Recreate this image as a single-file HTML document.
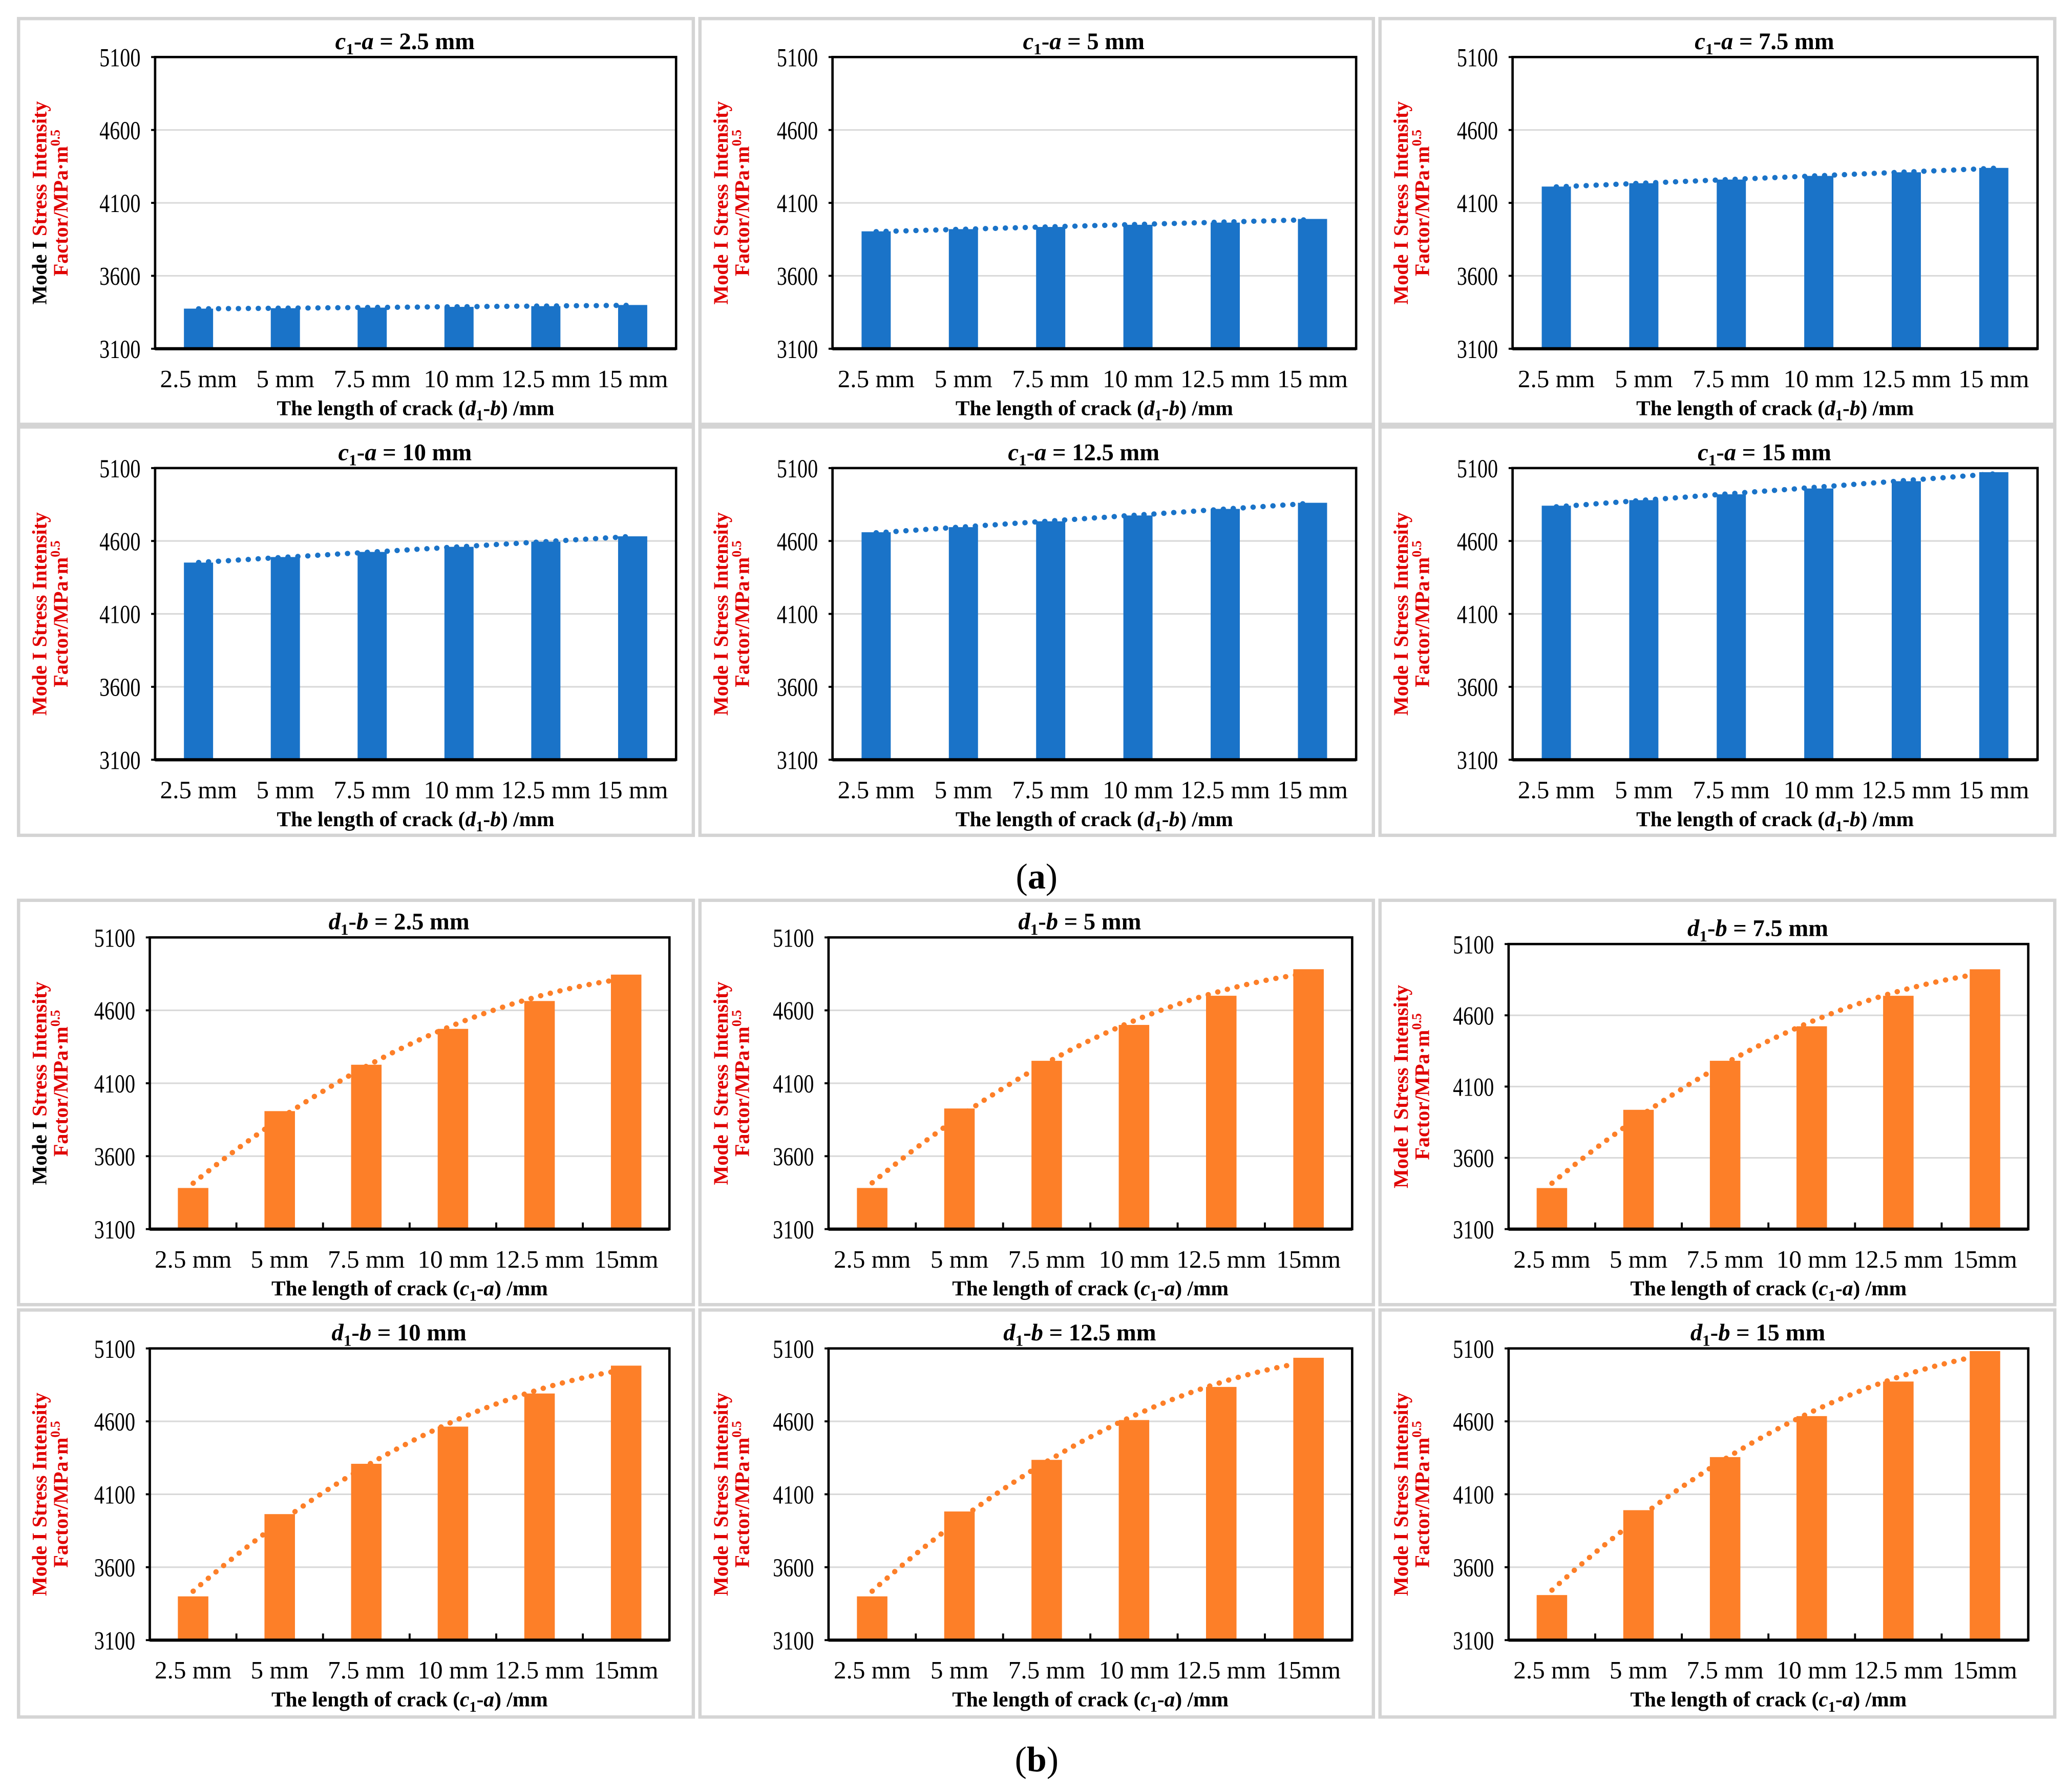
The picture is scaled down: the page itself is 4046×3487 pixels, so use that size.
<!DOCTYPE html>
<html><head><meta charset="utf-8">
<style>
html,body{margin:0;padding:0;background:#fff;}
svg{display:block;font-family:"Liberation Serif",serif;}
</style></head>
<body>
<svg id="fig" width="4046" height="3487" viewBox="0 0 1563 1347" xmlns="http://www.w3.org/2000/svg">
<rect x="0" y="0" width="1563" height="1347" fill="#fff"/>
<text x="782" y="670" text-anchor="middle" font-size="27">(<tspan font-weight="bold">a</tspan>)</text>
<text x="782" y="1336" text-anchor="middle" font-size="27">(<tspan font-weight="bold">b</tspan>)</text>
</svg>
<script>
// ---- data ----
const categoriesA = ["2.5 mm","5 mm","7.5 mm","10 mm","12.5 mm","15 mm"];
const categoriesB = ["2.5 mm","5 mm","7.5 mm","10 mm","12.5 mm","15mm"];
const yTicks = [3100,3600,4100,4600,5100];
const titlesA = ["2.5","5","7.5","10","12.5","15"];
const titlesB = ["2.5","5","7.5","10","12.5","15"];
const a1 = [3375,3378,3382,3387,3392,3400];
const a2 = [3905,3920,3935,3950,3965,3990];
const a3 = [4212,4235,4260,4285,4310,4340];
const a4 = [4452,4490,4525,4560,4595,4632];
const a5 = [4660,4695,4735,4775,4820,4862];
const a6 = [4842,4880,4920,4960,5010,5072];
const b1 = [3382,3909,4227,4473,4664,4845];
const b2 = [3382,3927,4254,4500,4700,4882];
const b3 = [3388,3937,4281,4523,4737,4923];
const b4 = [3400,3964,4309,4564,4791,4982];
const b5 = [3400,3982,4336,4609,4836,5036];
const b6 = [3409,3991,4355,4636,4873,5082];

const NS="http://www.w3.org/2000/svg";
const svg=document.getElementById('fig');
function mk(tag,attrs,parent){const e=document.createElementNS(NS,tag);for(const k in attrs)e.setAttribute(k,attrs[k]);(parent||svg).appendChild(e);return e;}

function fit(vals,deg){
  const n=vals.length,m=deg+1;const A=[];
  for(let i=0;i<m;i++){A.push(new Array(m+1).fill(0));}
  for(let k=0;k<n;k++){const x=k+1;for(let i=0;i<m;i++){for(let j=0;j<m;j++)A[i][j]+=Math.pow(x,i+j);A[i][m]+=vals[k]*Math.pow(x,i);}}
  for(let i=0;i<m;i++){let p=A[i][i];for(let j=i;j<=m;j++)A[i][j]/=p;for(let r=0;r<m;r++){if(r===i)continue;const f=A[r][i];for(let j=i;j<=m;j++)A[r][j]-=f*A[i][j];}}
  const c=A.map(r=>r[m]);return x=>c.reduce((s,ci,i)=>s+ci*Math.pow(x,i),0);
}

function panel(cfg){
  const g=mk('g',{});
  
  
  const fr=mk('rect',{x:cfg.fx,y:cfg.fy,width:cfg.fw,height:cfg.fh,fill:'none',stroke:'#d4d4d4','stroke-width':2.5},g);
  
  
  const L=cfg.px,R=cfg.px+cfg.pw,T=cfg.py,B=cfg.py+cfg.ph;
  const y=v=>B-(v-3100)/2000*cfg.ph;
  const bw=cfg.pw/6;
  const x=i=>L+bw*(i+0.5);
  yTicks.forEach(t=>{
    if(t>3100&&t<5100){const gl=mk('line',{x1:L,x2:R,y1:y(t),y2:y(t),stroke:'#d9d9d9','stroke-width':1.2},g);
      }
    const tk=mk('line',{x1:L-3,x2:L,y1:y(t),y2:y(t),stroke:'#000','stroke-width':1.5},g);
    
    const tl=mk('text',{x:L-11,y:y(t)+7,'text-anchor':'end','font-size':19.5,textLength:31,lengthAdjust:'spacingAndGlyphs'},g);
    tl.textContent=t;
    
  });
  cfg.vals.forEach((v,i)=>{
    const r=mk('rect',{x:x(i)-cfg.barw/2,y:y(v),width:cfg.barw,height:B-y(v),fill:cfg.color},g);
    
  });
  const f=fit(cfg.vals,cfg.deg);let pts=[];
  for(let k=0;k<=60;k++){const xx=1+5*k/60;pts.push((L+bw*(xx-0.5)).toFixed(1)+','+y(f(xx)).toFixed(1));}
  const tl=mk('polyline',{points:pts.join(' '),fill:'none',stroke:cfg.color,'stroke-width':4,'stroke-dasharray':'0.1 7.4','stroke-linecap':'round'},g);
  
  const ax=mk('rect',{x:L,y:T,width:cfg.pw,height:cfg.ph,fill:'none',stroke:'#000','stroke-width':1.8},g);
  
  const xb=mk('line',{x1:L,x2:R,y1:B,y2:B,stroke:'#000','stroke-width':2.4},g);
  
  if(cfg.xticks){for(let i=1;i<6;i++){const t=mk('line',{x1:L+bw*i,x2:L+bw*i,y1:B,y2:B-5,stroke:'#000','stroke-width':1.5},g);
    }}
  cfg.cats.forEach((c,i)=>{
    const t=mk('text',{x:x(i),y:B+29,'text-anchor':'middle','font-size':19},g);
    t.textContent=c;
  });
  const ti=mk('text',{x:(L+R)/2-8,y:T-6,'text-anchor':'middle','font-size':18,'font-weight':'bold'},g);
  ti.innerHTML=cfg.title;
  const xt=mk('text',{x:(L+R)/2,y:B+50,'text-anchor':'middle','font-size':16,'font-weight':'bold'},g);
  xt.innerHTML=cfg.xtitle;
  const cy=(T+B)/2;
  const y1=mk('text',{x:cfg.fx+21,y:cy,'text-anchor':'middle','font-size':15.5,'font-weight':'bold',fill:'#e00000',transform:`rotate(-90 ${cfg.fx+21} ${cy})`},g);
  y1.innerHTML=(cfg.black?'<tspan fill="#000">Mode I</tspan>':'Mode I')+' Stress Intensity';
  
  const y2=mk('text',{x:cfg.fx+37,y:cy,'text-anchor':'middle','font-size':15.5,'font-weight':'bold',fill:'#e00000',transform:`rotate(-90 ${cfg.fx+37} ${cy})`},g);
  y2.innerHTML='Factor/MPa·m<tspan font-size="10" dy="-6">0.5</tspan>';
  
}

const colsF=[[14,509],[528,508],[1041,509]];
const rowsA=[[14,306],[322,308]];
const rowsB=[[679,305],[988,307]];
const plotXA=[[117,393],[628,395],[1141,396]];
const plotXB=[[113,392],[625,395],[1138,392]];
const aVals=[a1,a2,a3,a4,a5,a6], bVals=[b1,b2,b3,b4,b5,b6];
const xtA='The length of crack (<tspan font-style="italic">d</tspan><tspan font-size="11" dy="4">1</tspan><tspan dy="-4">-</tspan><tspan font-style="italic">b</tspan>) /mm';
const xtB='The length of crack (<tspan font-style="italic">c</tspan><tspan font-size="11" dy="4">1</tspan><tspan dy="-4">-</tspan><tspan font-style="italic">a</tspan>) /mm';
for(let k=0;k<6;k++){
  const r=Math.floor(k/3),c=k%3;
  panel({name:'panel-a'+(k+1),fx:colsF[c][0],fy:rowsA[r][0],fw:colsF[c][1],fh:rowsA[r][1],
    px:plotXA[c][0],pw:plotXA[c][1],py:r?353:43,ph:220,vals:aVals[k],cats:categoriesA,color:'#1a73c8',
    barw:22,deg:1,xticks:false,black:k===0,xtitle:xtA,
    title:'<tspan font-style="italic">c</tspan><tspan font-size="12" dy="4">1</tspan><tspan dy="-4">-</tspan><tspan font-style="italic">a</tspan> = '+titlesA[k]+' mm'});
  panel({name:'panel-b'+(k+1),fx:colsF[c][0],fy:rowsB[r][0],fw:colsF[c][1],fh:rowsB[r][1],
    px:plotXB[c][0],pw:plotXB[c][1],py:r?1017:(c===2?712:707),ph:r?220:(c===2?215:220),vals:bVals[k],cats:categoriesB,color:'#fd7f28',
    barw:23,deg:2,xticks:true,black:k===0,xtitle:xtB,
    title:'<tspan font-style="italic">d</tspan><tspan font-size="12" dy="4">1</tspan><tspan dy="-4">-</tspan><tspan font-style="italic">b</tspan> = '+titlesB[k]+' mm'});
}
</script>
</body></html>
